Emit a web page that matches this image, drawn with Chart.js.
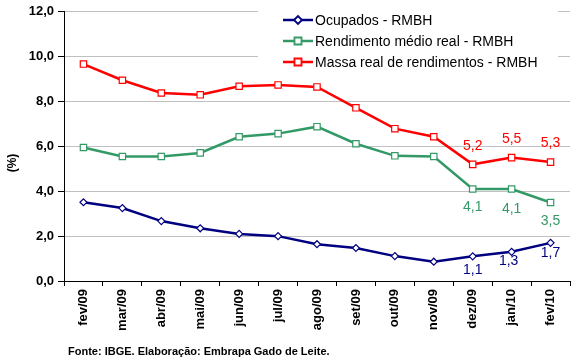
<!DOCTYPE html>
<html>
<head>
<meta charset="utf-8">
<script src="https://cdn.jsdelivr.net/npm/chart.js@4"></script>
<style>
  html, body { margin: 0; padding: 0; background: #fff; }
  #chart { display: block; }
</style>
</head>
<body>
<canvas id="chart" width="579" height="364"></canvas>
<script>
// months on the x axis
const months = ["fev/09", "mar/09", "abr/09", "mai/09", "jun/09", "jul/09", "ago/09",
                "set/09", "out/09", "nov/09", "dez/09", "jan/10", "fev/10"];

// series values (%)
const ocupados   = [3.51, 3.25, 2.67, 2.35, 2.10, 2.00, 1.64, 1.47, 1.11, 0.86, 1.1, 1.3, 1.7];
const rendimento = [5.95, 5.55, 5.55, 5.71, 6.43, 6.57, 6.88, 6.12, 5.58, 5.55, 4.1, 4.1, 3.5];
const massa      = [9.67, 8.95, 8.38, 8.30, 8.68, 8.74, 8.65, 7.72, 6.79, 6.43, 5.2, 5.5, 5.3];

const seriesNames = ["Ocupados - RMBH", "Rendimento médio real - RMBH", "Massa real de rendimentos - RMBH"];

// y axis
const yMin = 0, yMax = 12, yStep = 2;

// points that get a value label
const labelledPoints = [10, 11, 12];

const footerText = "Fonte: IBGE. Elaboração: Embrapa Gado de Leite.";
const yTitle = "(%)";

const fmt = v => v.toFixed(1).replace(".", ",");

document.addEventListener("DOMContentLoaded", function() {
    const navy = "#000080", green = "#339966", red = "#ff0000";
    const font = "Arial, 'Liberation Sans'";

    // offsets of the value labels from their point, per dataset
    const labelOffsets = [
        [[0, 14], [-3, 9], [0, 10]],
        [[0, 18], [0, 20], [0, 19]],
        [[0, -18], [0, -18.5], [0, -19]]
    ];

    const extras = {
        id: "extras",
        beforeDatasetsDraw(chart) {
            // legend box, covering the grid lines behind it
            const ctx = chart.ctx;
            ctx.save();
            ctx.fillStyle = "#fff";
            ctx.fillRect(258, 2, 300, 73);
            ctx.restore();
        },
        afterDatasetsDraw(chart) {
            const ctx = chart.ctx;
            ctx.save();

            // legend
            const rowsY = [20, 41, 62];
            chart.data.datasets.forEach((ds, i) => {
                const y = rowsY[i];
                ctx.strokeStyle = ds.borderColor;
                ctx.lineWidth = ds.borderWidth;
                ctx.beginPath();
                ctx.moveTo(283, y);
                ctx.lineTo(313, y);
                ctx.stroke();
                Chart.helpers.drawPoint(ctx, {
                    pointStyle: ds.pointStyle,
                    radius: ds.pointRadius,
                    borderWidth: ds.pointBorderWidth
                }, 298, y);
                ctx.fillStyle = "#fff";
                ctx.strokeStyle = ds.borderColor;
                ctx.lineWidth = ds.pointBorderWidth;
                ctx.fill();
                ctx.stroke();

                ctx.fillStyle = "#000";
                ctx.font = "14px " + font;
                ctx.textAlign = "left";
                ctx.textBaseline = "middle";
                ctx.fillText(ds.label, 315, y + 1);
            });

            // value labels
            ctx.font = "14px " + font;
            ctx.textAlign = "center";
            ctx.textBaseline = "middle";
            chart.data.datasets.forEach((ds, i) => {
                const meta = chart.getDatasetMeta(i);
                labelledPoints.forEach((idx, k) => {
                    const pt = meta.data[idx];
                    const off = labelOffsets[i][k];
                    ctx.fillStyle = ds.borderColor;
                    ctx.fillText(fmt(ds.data[idx]), pt.x + off[0], pt.y + off[1]);
                });
            });

            // y axis title
            ctx.fillStyle = "#000";
            ctx.font = "bold 12px " + font;
            ctx.translate(13, 163);
            ctx.rotate(-Math.PI / 2);
            ctx.fillText(yTitle, 0, 0);
            ctx.restore();

            // footer
            ctx.save();
            ctx.fillStyle = "#000";
            ctx.font = "bold 11px " + font;
            ctx.textAlign = "left";
            ctx.textBaseline = "middle";
            ctx.fillText(footerText, 68, 352);
            ctx.restore();
        }
    };

    const lineSet = (label, data, color, style, radius) => ({
        label: label,
        data: data,
        borderColor: color,
        backgroundColor: "#fff",
        borderWidth: 2.5,
        pointStyle: style,
        pointRadius: radius,
        pointBorderWidth: 1.2,
        pointBackgroundColor: "#fff",
        pointBorderColor: color,
        tension: 0
    });

    new Chart(document.getElementById("chart").getContext("2d"), {
        type: "line",
        data: {
            labels: months,
            datasets: [
                lineSet(seriesNames[0], ocupados, navy, "rectRot", 3.5),
                lineSet(seriesNames[1], rendimento, green, "rect", 4.5),
                lineSet(seriesNames[2], massa, red, "rect", 4.5)
            ]
        },
        options: {
            responsive: false,
            animation: false,
            layout: { padding: { top: 10, right: 9, left: 0, bottom: 0 } },
            plugins: {
                legend: { display: false },
                tooltip: { enabled: false }
            },
            scales: {
                x: {
                    offset: true,
                    afterFit: s => { s.height = 83; },
                    grid: {
                        offset: true,
                        drawOnChartArea: false,
                        drawTicks: true,
                        tickLength: 5,
                        tickColor: "#000"
                    },
                    border: { color: "#000", width: 1 },
                    ticks: {
                        color: "#000",
                        font: { family: font, size: 13, weight: "bold" },
                        minRotation: 90,
                        maxRotation: 90,
                        padding: 3,
                        autoSkip: false
                    }
                },
                y: {
                    min: yMin,
                    max: yMax,
                    afterFit: s => { s.width = 64; },
                    grid: {
                        color: "#c0c0c0",
                        tickColor: "#000",
                        tickLength: 6
                    },
                    border: { color: "#000", width: 1 },
                    ticks: {
                        stepSize: yStep,
                        color: "#000",
                        padding: 4,
                        font: { family: font, size: 13, weight: "bold" },
                        callback: v => fmt(v)
                    }
                }
            }
        },
        plugins: [extras]
    });
});
</script>
</body>
</html>
